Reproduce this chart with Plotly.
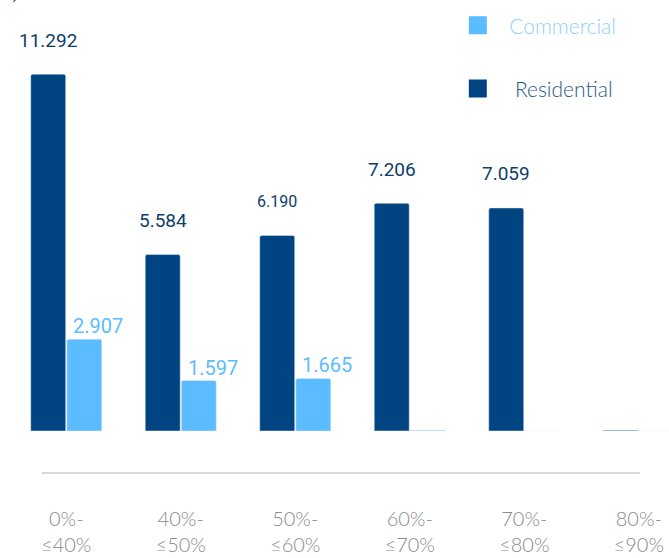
import plotly.graph_objects as go

# LTV buckets
categories = ["0%-<br>≤40%", "40%-<br>≤50%", "50%-<br>≤60%", "60%-<br>≤70%", "70%-<br>≤80%", "80%-<br>≤90%"]
residential = [11.292, 5.584, 6.190, 7.206, 7.059, 0.02]
commercial = [2.907, 1.597, 1.665, 0.02, 0.0, 0.0]
residential_labels = ["11.292", "5.584", "6.190", "7.206", "7.059", ""]
commercial_labels = ["2.907", "1.597", "1.665", "", "", ""]

DARK = "#004481"
LIGHT = "#5bbcff"
NB = "\u00a0"

fig = go.Figure()
fig.add_trace(go.Bar(
    x=categories, y=residential, name="Residential",
    marker=dict(color=DARK, cornerradius=2), showlegend=False,
))
fig.add_trace(go.Bar(
    x=categories, y=commercial, name="Commercial",
    marker=dict(color=LIGHT, cornerradius=2), showlegend=False,
))

# legend entries (bigger square icons)
fig.add_trace(go.Scatter(
    x=[None], y=[None], mode="markers", legendgroup="c",
    name=NB * 2 + "<span style='color:#8fd0ff'>Commercial</span>",
    marker=dict(symbol="square", size=16, color=LIGHT, line=dict(color=LIGHT, width=2)),
))
fig.add_trace(go.Scatter(
    x=[None], y=[None], mode="markers", legendgroup="r",
    name=NB * 3 + "<span style='color:#2a5a8c'>Residential</span>",
    marker=dict(symbol="square", size=16, color=DARK, line=dict(color=DARK, width=2)),
))

annotations = []
for cat, val, lab in zip(categories, residential, residential_labels):
    if lab:
        annotations.append(dict(
            x=cat, y=val, text=lab, showarrow=False, xshift=-18, yshift=34,
            yanchor="middle",
            font=dict(family="Roboto", size=16 if lab == "6.190" else 19, color="#0e3d6b"),
        ))
for cat, val, lab in zip(categories, commercial, commercial_labels):
    if lab:
        annotations.append(dict(
            x=cat, y=val, text=lab, showarrow=False, xshift=32, yshift=13,
            yanchor="middle",
            font=dict(family="Roboto", size=20, color=LIGHT),
        ))
annotations.append(dict(
    x=0.018, y=0.988, xref="paper", yref="paper", text="(mn)", showarrow=False,
    xanchor="right", yanchor="bottom", font=dict(family="Roboto", size=19, color="#1f4e79"),
))

fig.update_layout(
    width=669, height=558,
    margin=dict(l=9, r=0, t=0, b=127),
    paper_bgcolor="white", plot_bgcolor="white",
    barmode="group", bargap=0.37, bargroupgap=0.03,
    annotations=annotations,
    legend=dict(
        x=0.68, y=0.988, xanchor="left", yanchor="top",
        traceorder="grouped", tracegroupgap=33,
        font=dict(family="Lato", size=21, weight=300),
        bgcolor="rgba(0,0,0,0)",
    ),
    shapes=[dict(
        type="line", xref="paper", yref="paper", x0=0.05, x1=0.956, y0=-0.0975, y1=-0.0975,
        line=dict(color="#d9d9d9", width=2),
    )],
)
fig.update_xaxes(
    range=[-0.5, 5.264], showgrid=False, showline=False, zeroline=False,
    ticks="", ticklabelstandoff=74, automargin=False,
    tickfont=dict(family="Lato", size=20, color="#8a8a8a", weight=300),
)
fig.update_yaxes(range=[0, 13.64], visible=False)

fig.write_html(
    "out.html",
    config={"displayModeBar": False},
    post_script="document.body.style.margin='0';",
)
